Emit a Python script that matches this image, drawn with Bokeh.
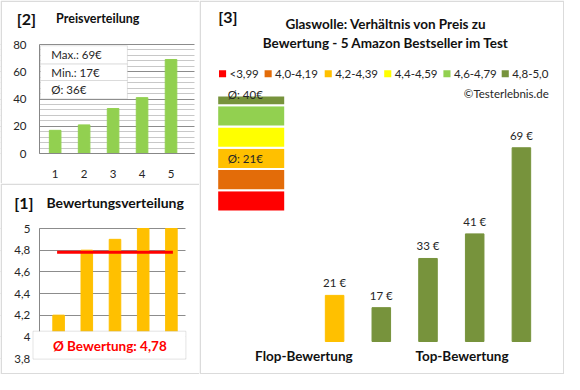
from bokeh.plotting import figure
from bokeh.layouts import row, column
from bokeh.models import (Label, LabelSet, BoxAnnotation, ColumnDataSource,
                          FixedTicker, CustomJSTickFormatter)
from bokeh.core.properties import value
from bokeh.embed import file_html
from bokeh.resources import INLINE

# ---------------- data ----------------
rank_labels = [1, 2, 3, 4, 5]
prices_sorted = [17, 21, 33, 41, 69]
ratings_sorted = [4.2, 4.8, 4.9, 5.0, 5.0]
avg_rating = 4.78
price_stats = ["Max.: 69€", "Min.: 17€", "Ø: 36€"]
rating_avg_text = "Ø Bewertung: 4,78"

product_pos = [1, 2, 3, 4, 5]
product_prices = [21, 17, 33, 41, 69]
product_ratings = [4.2, 4.8, 4.9, 5.0, 5.0]
price_texts = ["21 €", "17 €", "33 €", "41 €", "69 €"]

class_labels = ["<3,99", "4,0-4,19", "4,2-4,39", "4,4-4,59", "4,6-4,79", "4,8-5,0"]
class_lower = [0.0, 4.0, 4.2, 4.4, 4.6, 4.8]
class_colors = ["#FF0000", "#E36C09", "#FFC000", "#FFFF00", "#92D050", "#77933C"]
class_avg_texts = ["", "", "Ø: 21€", "", "", "Ø: 40€"]

group_labels = ["Flop-Bewertung", "Top-Bewertung"]

FONT = "Lato"
BORDER = "#878787"
TXT = "#262626"
HEAD = "#111111"


class Geo:
    """Frame covers the whole canvas; (l, r, t, b, xr, yr) describe the inner plot area."""
    def __init__(self, W, H, l, r, t, b, xr, yr):
        self.W, self.H = W, H
        self.sx = (xr[1] - xr[0]) / (W - l - r)
        self.sy = (yr[1] - yr[0]) / (H - t - b)
        self.X0 = xr[0] - l * self.sx
        self.X1 = xr[1] + r * self.sx
        self.Y0 = yr[0] - b * self.sy
        self.Y1 = yr[1] + t * self.sy
        self.xr, self.yr = xr, yr

    def x(self, px):
        return self.X0 + px * self.sx

    def y(self, py):
        return self.Y1 - py * self.sy


def make_fig(W, H, l, r, t, b, xr, yr):
    g = Geo(W, H, l, r, t, b, xr, yr)
    p = figure(width=W, height=H, x_range=(g.X0, g.X1), y_range=(g.Y0, g.Y1),
               output_backend="svg", toolbar_location=None, min_border=0,
               min_border_left=0, min_border_right=0, min_border_top=0, min_border_bottom=0)
    p.outline_line_color = None
    p.background_fill_color = "white"
    p.border_fill_color = "white"
    return p, g


def box(p, g, x0, x1, y0, y1, fill="white", line=None, lw=1, level="overlay"):
    p.add_layout(BoxAnnotation(left=g.x(x0), right=g.x(x1), top=g.y(y0), bottom=g.y(y1),
                               fill_color=fill, fill_alpha=1 if fill else 0,
                               line_color=line, line_width=lw, level=level))


def panel_border(p, g, left=True, right=True, top=True, bottom=True):
    W, H = g.W, g.H
    box(p, g, 0.75 if left else -5, W - 0.75 if right else W + 5,
        0.75 if top else -5, H - 0.75 if bottom else H + 5,
        fill=None, line=BORDER, lw=1.5)


def text(p, x, y, s, size="11.5px", style="normal", align="left", color=TXT):
    p.add_layout(Label(x=x, y=y, text=s, text_font=FONT, text_font_size=size,
                       text_font_style=style, text_align=align, text_baseline="middle",
                       text_color=color, level="overlay"))


def style_axis(ax, standoff):
    ax.major_label_text_font = FONT
    ax.major_label_text_font_size = "11.5px"
    ax.major_label_text_color = TXT
    ax.major_tick_line_color = None
    ax.minor_tick_line_color = None
    ax.major_tick_out = 0
    ax.major_tick_in = 0
    ax.major_label_standoff = int(standoff)
    ax.axis_line_color = BORDER


W_L, H_T, H_B, W_R, H_R = 199, 183, 191, 365, 374

# ---------------- [2] Preisverteilung ----------------
L2, R2, T2, B2 = 39, 5, 44, 30
p2, g2 = make_fig(W_L, H_T, L2, R2, T2, B2, (0.46, 5.81), (0, 80))
p2.xgrid.grid_line_color = None
p2.ygrid.grid_line_color = "#8c8c8c"
p2.ygrid.minor_grid_line_color = "#c8c8c8"
# keep grid lines inside the plot area
box(p2, g2, -2, L2, -2, H_T + 2, level="underlay")
box(p2, g2, W_L - R2, W_L + 2, -2, H_T + 2, level="underlay")
p2.vbar(x=rank_labels, top=prices_sorted, width=0.4, color="#92D050")
p2.xaxis.ticker = FixedTicker(ticks=rank_labels)
p2.yaxis.ticker = FixedTicker(ticks=[0, 20, 40, 60, 80], minor_ticks=list(range(4, 80, 4)))
p2.xaxis.fixed_location = 0
p2.xaxis.bounds = (g2.x(L2), g2.x(W_L - R2))
p2.yaxis.fixed_location = g2.x(L2)
p2.yaxis.bounds = (0, 80)
style_axis(p2.xaxis[0], 16)
style_axis(p2.yaxis[0], 9)

row_edges = [45.3, 63.6, 80.0, 98.3]
for i, s in enumerate(price_stats):
    box(p2, g2, 40.0, 126.9, row_edges[i], row_edges[i + 1], line="#a6a6a6")
for i, s in enumerate(price_stats):
    text(p2, g2.x(50.8), g2.y((row_edges[i] + row_edges[i + 1]) / 2), s)
text(p2, g2.x(25.9), g2.y(18.3), "[2]", size="16px", style="bold", align="center", color=HEAD)
text(p2, g2.x(55.6), g2.y(18.3), "Preisverteilung", size="12.5px", style="bold", color=HEAD)
panel_border(p2, g2, right=False, bottom=False)

# ---------------- [1] Bewertungsverteilung ----------------
L1, R1, T1, B1 = 44, 14, 45, 16
AX1 = 38.8
p1, g1 = make_fig(W_L, H_B, L1, R1, T1, B1, (0.5, 5.5), (3.8, 5.0))
p1.xgrid.grid_line_color = None
p1.ygrid.grid_line_color = "#8c8c8c"
box(p1, g1, -2, AX1, -2, H_B + 2, level="underlay")
box(p1, g1, W_L - R1, W_L + 2, -2, H_B + 2, level="underlay")
p1.vbar(x=rank_labels, top=ratings_sorted, bottom=3.8, width=0.41, color="#FFC000")
p1.line(x=rank_labels, y=[avg_rating] * len(rank_labels), line_color="#FF0000",
        line_width=3, line_cap="square")
p1.xaxis.visible = False
p1.yaxis.ticker = FixedTicker(ticks=[3.8, 4.0, 4.2, 4.4, 4.6, 4.8, 5.0])
p1.yaxis.formatter = CustomJSTickFormatter(
    code="var s = (Math.round(tick*10)/10).toString(); return s.replace('.', ',');")
p1.yaxis.fixed_location = g1.x(AX1)
p1.yaxis.bounds = (3.8, 5.0)
style_axis(p1.yaxis[0], 9)
box(p1, g1, 32.5, 185.4, 147.7, 175.6, line="#a6a6a6")
text(p1, g1.x(109.3), g1.y(162.1), rating_avg_text, size="13.5px", style="bold",
     align="center", color="#FF0000")
text(p1, g1.x(23.4), g1.y(18.5), "[1]", size="16px", style="bold", align="center", color=HEAD)
text(p1, g1.x(45.9), g1.y(18.5), "Bewertungsverteilung", size="14px", style="bold", color=HEAD)
panel_border(p1, g1, right=False)

# ---------------- [3] Preis / Bewertung ----------------
LR, RR, TR, BR = 0, 0, 95, 33
pr, gr = make_fig(W_R, H_R, LR, RR, TR, BR, (-1.893, 5.923), (6, 86))
pr.axis.visible = False
pr.grid.grid_line_color = None
base, axis_top = gr.yr


def class_of(r):
    k = 0
    for i, lo in enumerate(class_lower):
        if r >= lo:
            k = i
    return k


bar_colors = [class_colors[class_of(r)] for r in product_ratings]
pr.vbar(x=product_pos, top=product_prices, bottom=base, width=0.397, color=bar_colors)
src = ColumnDataSource(dict(x=product_pos, y=[v + 12.5 * gr.sy for v in product_prices],
                            t=price_texts))
pr.add_layout(LabelSet(x="x", y="y", text="t", source=src, text_align="center",
                       text_baseline="middle", text_font=value(FONT),
                       text_font_size="11.5px", text_color=TXT))

# class column (stacked boxes, clipped at the value-axis maximum)
col_x = gr.x(51.7)
seg_h = 6.9
seg_base = 48.3
bottoms = [seg_base + i * seg_h for i in range(len(class_colors))]
tops = [min(b + seg_h, axis_top) for b in bottoms]
pr.vbar(x=[col_x] * len(class_colors), bottom=bottoms, top=tops, width=68 * gr.sx,
        fill_color=class_colors, line_color="white", line_width=2)
for i, s in enumerate(class_avg_texts):
    if s:
        text(pr, gr.x(28.3), bottoms[i] + seg_h / 2, s, size="11.5px")

# legend row
sq_left = [19.5, 65.1, 125.2, 184.7, 243.9, 302.2]
sq = 7.1
for i, lab in enumerate(class_labels):
    box(pr, gr, sq_left[i], sq_left[i] + sq, 73.3 - sq / 2, 73.3 + sq / 2, fill=class_colors[i])
    text(pr, gr.x(sq_left[i] + 10.5), gr.y(73.3), lab, size="11.5px")

text(pr, gr.x(349.3), gr.y(92.5), "©Testerlebnis.de", size="11.5px", align="right")
text(pr, gr.x(28.3), gr.y(16.4), "[3]", size="16px", style="bold", align="center", color=HEAD)
text(pr, gr.x(186.4), gr.y(23.1), "Glaswolle: Verhältnis von Preis zu", size="13.5px",
     style="bold", align="center", color=HEAD)
text(pr, gr.x(186.4), gr.y(42.4), "Bewertung - 5 Amazon Bestseller im Test", size="13.5px",
     style="bold", align="center", color=HEAD)
text(pr, gr.x(104.4), gr.y(355.7), group_labels[0], size="13.5px", style="bold",
     align="center", color=HEAD)
text(pr, gr.x(262.5), gr.y(355.7), group_labels[1], size="13.5px", style="bold",
     align="center", color=HEAD)
panel_border(pr, gr)

layout = row(column(p2, p1, spacing=0), pr, spacing=0)
open("out.html", "w").write(file_html(layout, INLINE))
